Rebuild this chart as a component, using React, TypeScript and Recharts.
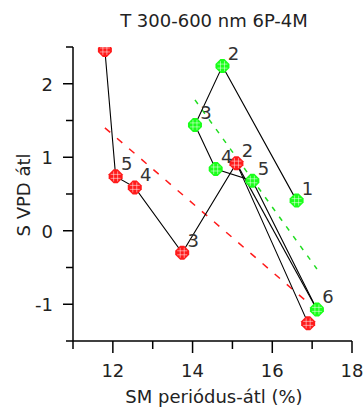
import React from "react"
import {
  ScatterChart,
  Scatter,
  XAxis,
  YAxis,
} from "recharts"

// red series (labels 1..6, label 1 is hidden under the green marker)
const redX = [16.9, 15.1, 13.74, 12.55, 12.07, 11.8]
const redY = [-1.26, 0.92, -0.3, 0.59, 0.74, 2.46]
const redLabels = ["", "2", "3", "4", "5", "6"]

// green series
const greenX = [16.61, 14.75, 14.06, 14.58, 15.5, 17.12]
const greenY = [0.41, 2.24, 1.44, 0.84, 0.68, -1.07]
const greenLabels = ["1", "2", "3", "4", "5", "6"]

// dashed fit lines, endpoints
const redFitX = [11.8, 16.9]
const redFitY = [1.4, -0.98]
const greenFitX = [14.06, 17.12]
const greenFitY = [1.78, -0.52]

const xTicks = [11, 12, 13, 14, 15, 16, 17, 18]
const xTickLabels = [12, 14, 16, 18]
const yTicks = [-1.5, -1, -0.5, 0, 0.5, 1, 1.5, 2, 2.5]
const yTickLabels = [-1, 0, 1, 2]

const titre = "T 300-600 nm 6P-4M"
const titreX = "SM periódus-átl (%)"
const titreY = "S VPD átl"

const FONT = "'DejaVu Sans', sans-serif"
const PLOT_TOP = 47
const ROUGE = "#ff1a1a"
const VERT = "#1aff1a"

const toPts = (xs: number[], ys: number[], labels?: string[]) =>
  xs.map((x, i) => ({ x, y: ys[i], label: labels ? labels[i] : "" }))

const red = toPts(redX, redY, redLabels)
const green = toPts(greenX, greenY, greenLabels)
const redFit = toPts(redFitX, redFitY)
const greenFit = toPts(greenFitX, greenFitY)
// extra black segment from red 2 down to green 6
const extraSeg = [red[1], green[5]]

const rien = () => <g />

function marqueur(couleur: string, nom: string) {
  return (props: any) => {
    const { cx, cy, payload, index } = props
    if (cx == null || cy == null) return <g />
    const r = 7
    const c = 2
    const pts = [
      [cx - c, cy - r],
      [cx + c, cy - r],
      [cx + r, cy - c],
      [cx + r, cy + c],
      [cx + c, cy + r],
      [cx - c, cy + r],
      [cx - r, cy + c],
      [cx - r, cy - c],
    ]
    const id = `clip-${nom}-${index}`
    return (
      <g>
        <defs>
          <clipPath id={id}>
            <rect x={cx - 20} y={PLOT_TOP} width={40} height={400} />
          </clipPath>
        </defs>
        <g clipPath={`url(#${id})`}>
          <polygon
            points={pts.map((p) => p.join(",")).join(" ")}
            fill={couleur}
          />
          {[-2, 2].map((d) => (
            <g key={d}>
              <line x1={cx - 5} x2={cx + 5} y1={cy + d} y2={cy + d} stroke="#fff" strokeOpacity={0.5} strokeWidth={1} />
              <line y1={cy - 5} y2={cy + 5} x1={cx + d} x2={cx + d} stroke="#fff" strokeOpacity={0.5} strokeWidth={1} />
            </g>
          ))}
        </g>
        {payload.label && (
          <text
            x={cx + 11}
            y={cy - 6}
            textAnchor="middle"
            fontFamily={FONT}
            fontSize={18}
            fill="#333"
          >
            {payload.label}
          </text>
        )}
      </g>
    )
  }
}

const TickX = (props: any) => {
  const { x, y, payload } = props
  const avecTexte = xTickLabels.includes(payload.value)
  return (
    <g>
      <line x1={x} x2={x} y1={y} y2={y + (avecTexte ? 12 : 8)} stroke="#000" strokeWidth={1.5} />
      {avecTexte && (
        <text x={x} y={y + 36} textAnchor="middle" fontFamily={FONT} fontSize={18} fill="#222">
          {payload.value}
        </text>
      )}
    </g>
  )
}

const TickY = (props: any) => {
  const { x, y, payload } = props
  const avecTexte = yTickLabels.includes(payload.value)
  return (
    <g>
      <line x1={x - (avecTexte ? 10 : 7)} x2={x} y1={y} y2={y} stroke="#000" strokeWidth={1.5} />
      {avecTexte && (
        <text x={x - 20} y={y + 7} textAnchor="end" fontFamily={FONT} fontSize={18} fill="#222">
          {payload.value}
        </text>
      )}
    </g>
  )
}

export default function App() {
  return (
    <div style={{ width: 364, height: 411, background: "#fff" }}>
      <style>{"body{margin:0}"}</style>
      <ScatterChart
        width={364}
        height={411}
        margin={{ top: PLOT_TOP, right: 12, left: 0, bottom: 0 }}
      >
        <XAxis
          type="number"
          dataKey="x"
          domain={[11, 18]}
          ticks={xTicks}
          interval={0}
          allowDataOverflow
          height={70}
          tickSize={0}
          tickMargin={0}
          tickLine={false}
          axisLine={{ stroke: "#000", strokeWidth: 1.5 }}
          tick={<TickX />}
        />
        <YAxis
          type="number"
          dataKey="y"
          domain={[-1.5, 2.5]}
          ticks={yTicks}
          interval={0}
          allowDataOverflow
          width={73}
          tickSize={0}
          tickMargin={0}
          tickLine={false}
          axisLine={{ stroke: "#000", strokeWidth: 1.5 }}
          tick={<TickY />}
        />
        <Scatter data={redFit} line={{ stroke: ROUGE, strokeWidth: 1.5, strokeDasharray: "7 9" }} shape={rien} isAnimationActive={false} />
        <Scatter data={greenFit} line={{ stroke: "#22dd22", strokeWidth: 1.5, strokeDasharray: "5 7" }} shape={rien} isAnimationActive={false} />
        <Scatter data={red} line={{ stroke: "#000", strokeWidth: 1.1 }} shape={rien} isAnimationActive={false} />
        <Scatter data={green} line={{ stroke: "#000", strokeWidth: 1.1 }} shape={rien} isAnimationActive={false} />
        <Scatter data={extraSeg} line={{ stroke: "#000", strokeWidth: 1.1 }} shape={rien} isAnimationActive={false} />
        <Scatter data={red} shape={marqueur(ROUGE, "r")} isAnimationActive={false} />
        <Scatter data={green} shape={marqueur(VERT, "g")} isAnimationActive={false} />
        <text x={214} y={27} textAnchor="middle" fontFamily={FONT} fontSize={18} fill="#222">
          {titre}
        </text>
        <text x={214} y={403} textAnchor="middle" fontFamily={FONT} fontSize={18} fill="#222">
          {titreX}
        </text>
        <text
          x={30}
          y={195}
          textAnchor="middle"
          fontFamily={FONT}
          fontSize={18}
          fill="#222"
          transform="rotate(-90 30 195)"
        >
          {titreY}
        </text>
      </ScatterChart>
    </div>
  )
}
